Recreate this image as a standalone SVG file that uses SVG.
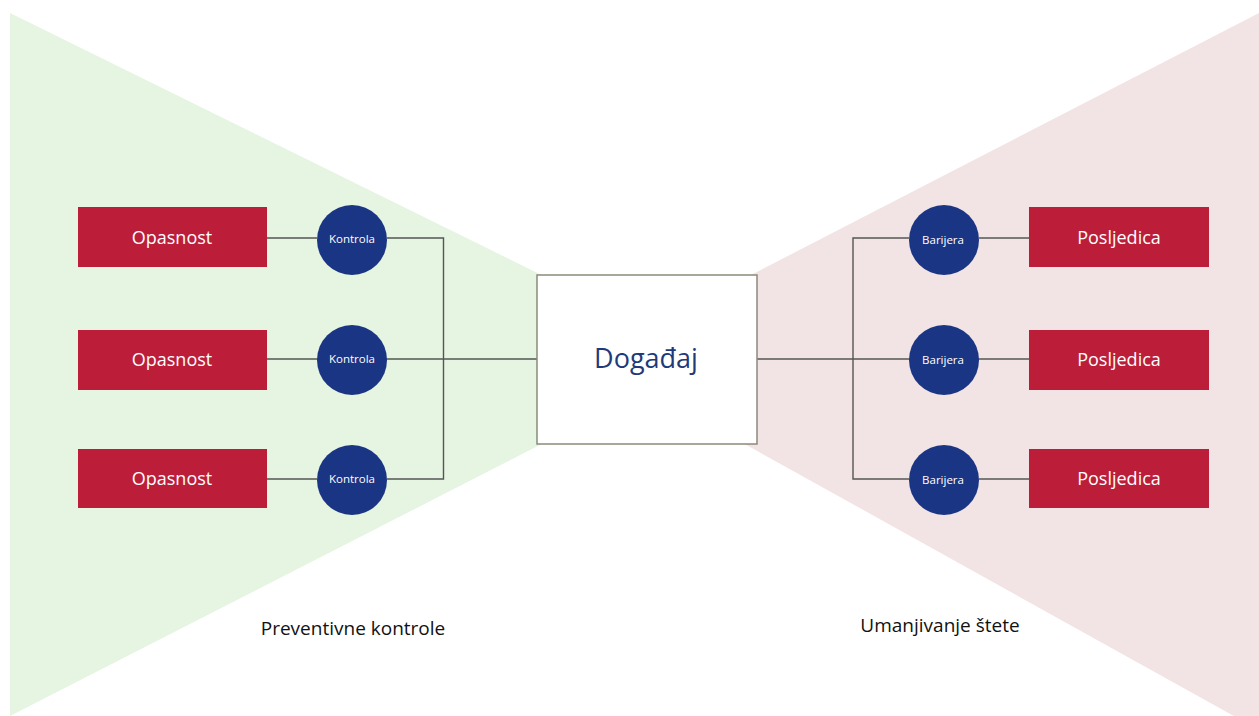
<svg xmlns="http://www.w3.org/2000/svg" width="1259" height="716" viewBox="0 0 1259 716">
<style>
.hz{fill:#bc1e3a}
.ct{fill:#1a3583}
.wt{fill:#ffffff;font-family:"Open Sans","Noto Sans",sans-serif;text-anchor:middle}
.big{font-size:18px}
.sm{font-size:11.5px}
.lbl{fill:#111111;font-family:"Open Sans","Noto Sans",sans-serif;font-size:19px;text-anchor:middle}
.cn{fill:none;stroke:#555555;stroke-width:1.4}
</style>
<rect width="1259" height="716" fill="#ffffff"/>
<g id="zones">
<polygon points="10,13 710,358 10,716" fill="#e6f4e2"/>
<polygon points="1259,13 590,358 1259,730" fill="#f2e4e4"/>
</g>
<g id="connectors">
<path class="cn" d="M267,238 H317 M387,238 H443.5 V479 H387 M317,479 H267 M267,359 H537"/>
<path class="cn" d="M1029,238 H979 M909,238 H853 V479 H909 M979,479 H1029 M757,359 H1029"/>
</g>
<g id="event">
<rect x="537" y="275" width="220" height="169" fill="#ffffff" stroke="#8a8a7a" stroke-width="1.5"/>
<text x="646" y="368" font-family="'Open Sans','Noto Sans',sans-serif" font-size="27" fill="#1f3a7a" text-anchor="middle">Događaj</text>
</g>
<g id="hazard1"><rect class="hz" x="78" y="207" width="189" height="60"/><text class="wt big" x="172" y="244">Opasnost</text></g>
<g id="hazard2"><rect class="hz" x="78" y="330" width="189" height="60"/><text class="wt big" x="172" y="366">Opasnost</text></g>
<g id="hazard3"><rect class="hz" x="78" y="449" width="189" height="59"/><text class="wt big" x="172" y="485">Opasnost</text></g>
<g id="control1"><circle class="ct" cx="352" cy="240" r="35"/><text class="wt sm" x="352" y="243">Kontrola</text></g>
<g id="control2"><circle class="ct" cx="352" cy="360" r="35"/><text class="wt sm" x="352" y="363">Kontrola</text></g>
<g id="control3"><circle class="ct" cx="352" cy="480" r="35"/><text class="wt sm" x="352" y="483">Kontrola</text></g>
<g id="barrier1"><circle class="ct" cx="944" cy="240" r="35"/><text class="wt sm" x="943" y="244">Barijera</text></g>
<g id="barrier2"><circle class="ct" cx="944" cy="360" r="35"/><text class="wt sm" x="943" y="364">Barijera</text></g>
<g id="barrier3"><circle class="ct" cx="944" cy="480" r="35"/><text class="wt sm" x="943" y="484">Barijera</text></g>
<g id="consequence1"><rect class="hz" x="1029" y="207" width="180" height="60"/><text class="wt big" x="1119" y="244">Posljedica</text></g>
<g id="consequence2"><rect class="hz" x="1029" y="330" width="180" height="60"/><text class="wt big" x="1119" y="366">Posljedica</text></g>
<g id="consequence3"><rect class="hz" x="1029" y="449" width="180" height="59"/><text class="wt big" x="1119" y="485">Posljedica</text></g>
<g id="labels">
<text class="lbl" x="353" y="635">Preventivne kontrole</text>
<text class="lbl" x="940" y="632">Umanjivanje štete</text>
</g>
</svg>
